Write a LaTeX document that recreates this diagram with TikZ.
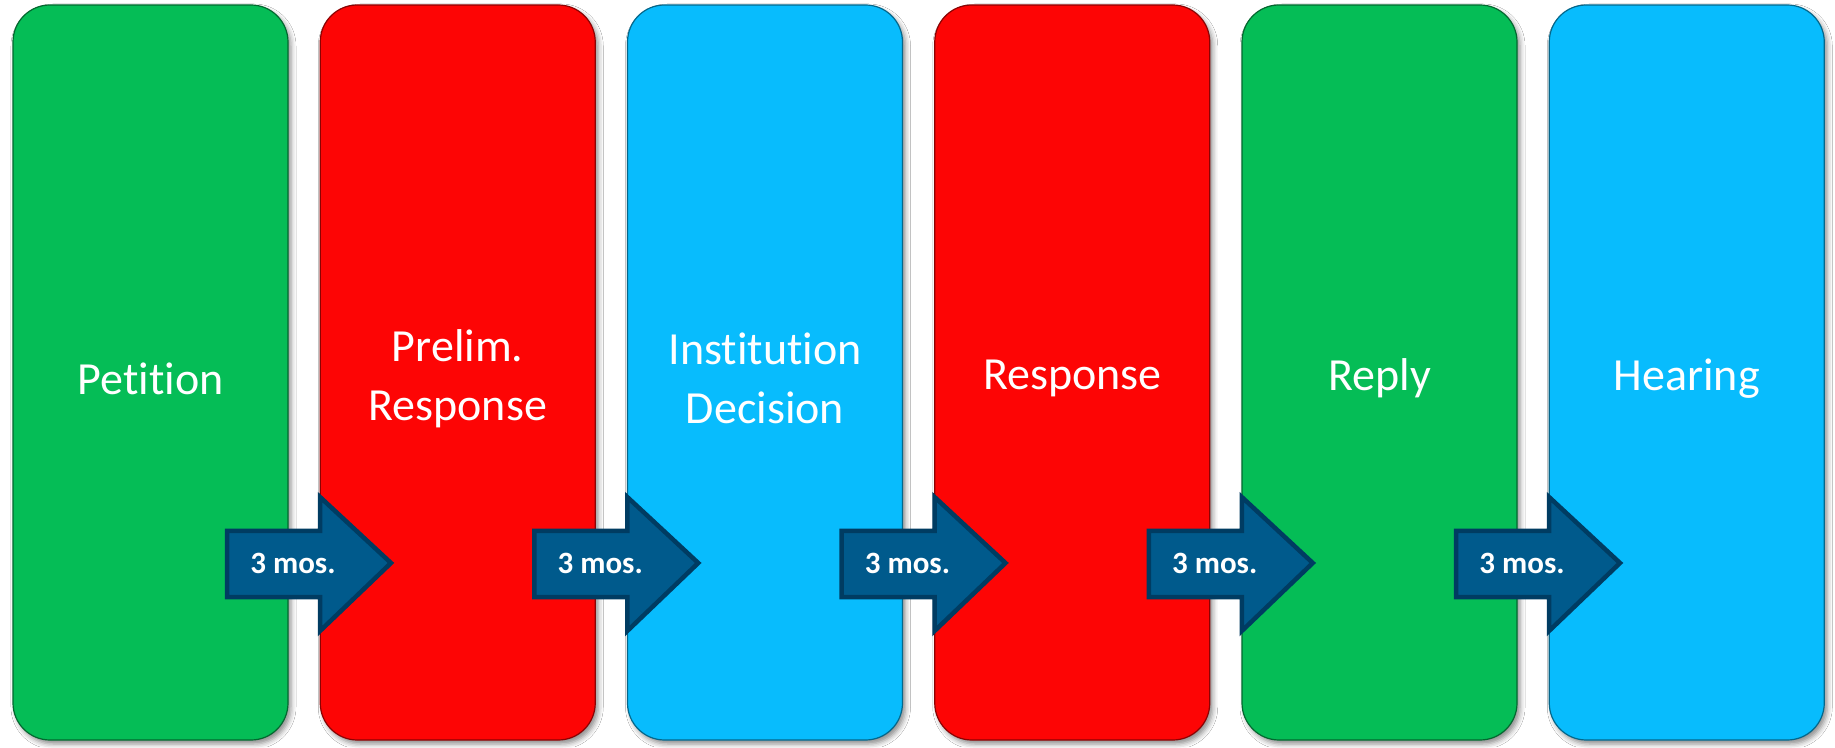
\documentclass[tikz,border=0pt]{standalone}
\usepackage{fontspec}
\setmainfont[Ligatures=NoCommon]{Carlito}
\usetikzlibrary{shadows.blur}

\definecolor{stagegreen}{RGB}{5,189,86}
\definecolor{stagered}{RGB}{253,5,5}
\definecolor{stageblue}{RGB}{8,188,253}
\definecolor{arrowfill}{RGB}{0,90,140}
\definecolor{arrowedge}{RGB}{0,60,98}

\tikzset{
  stage/.style={
    rounded corners=37pt, minimum width=275pt, minimum height=735pt,
    inner sep=0pt, line width=1.2pt,
    blur shadow={shadow xshift=3pt, shadow yshift=-4pt,
                 shadow blur radius=5pt, shadow opacity=45}},
  stagetext/.style={text=white, align=center, inner sep=0pt,
    yshift=-6pt, font=\fontsize{46}{59}\selectfont},
  gstage/.style={stage, fill=stagegreen, draw=stagegreen!55!black},
  rstage/.style={stage, fill=stagered, draw=stagered!55!black},
  bstage/.style={stage, fill=stageblue, draw=stageblue!55!black},
  blockarrow/.style={fill=arrowfill, draw=arrowedge, line width=4.5pt, line join=miter},
  moslabel/.style={text=white, inner sep=0pt,
    font=\fontsize{31}{36}\selectfont\bfseries}
}

\begin{document}
\begin{tikzpicture}[x=1pt,y=1pt]
  \useasboundingbox[fill=white] (0,0) rectangle (1835,747);

  % stage boxes, left to right, with their captions
  \node[gstage, label={[stagetext]center:Petition}] (s1) at (150.5,374.5) {};
  \node[rstage, label={[stagetext]center:Prelim.\\Response}] (s2) at (457.75,374.5) {};
  \node[bstage, label={[stagetext]center:Institution\\Decision}] (s3) at (765.0,374.5) {};
  \node[rstage, label={[stagetext]center:Response}] (s4) at (1072.25,374.5) {};
  \node[gstage, label={[stagetext]center:Reply}] (s5) at (1379.5,374.5) {};
  \node[bstage, label={[stagetext]center:Hearing}] (s6) at (1686.75,374.5) {};

  % block arrows between consecutive stages, each labelled with the interval
  \foreach \i in {0,...,4} {
    \pgfmathsetmacro{\xa}{227+307.25*\i}
    \draw[blockarrow] (\xa,216) -- ++(93,0) -- ++(0,34) -- (\xa+164,184)
      -- (\xa+93,116) -- ++(0,34) -- (\xa,150) -- cycle;
    \node[moslabel] (m\i) at (\xa+66,184) {3 mos.};
  }
\end{tikzpicture}
\end{document}
